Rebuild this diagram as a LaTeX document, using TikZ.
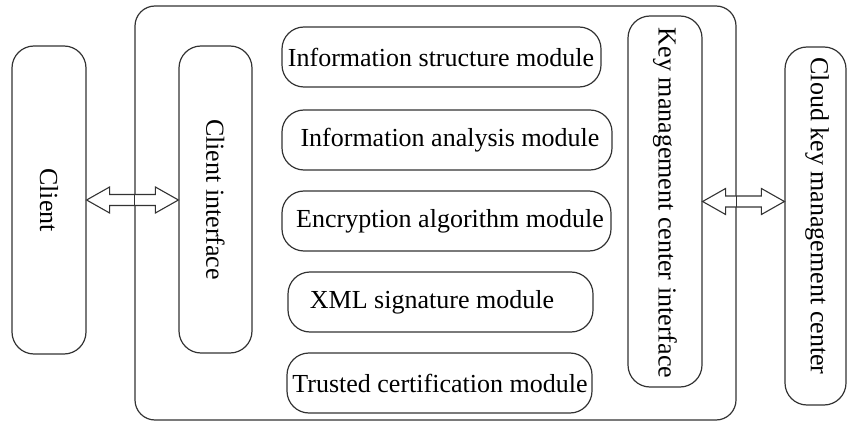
\documentclass[tikz,border=0pt]{standalone}
\usepackage{fontspec}
\setmainfont{Liberation Serif}
\usetikzlibrary{calc}
\definecolor{linec}{HTML}{333333}
\begin{document}
\begin{tikzpicture}[x=1pt,y=-1pt,
  box/.style={draw=linec, line width=1.2pt, rounded corners=22pt, inner sep=0pt},
  txt/.style={font=\fontsize{26}{30}\selectfont, text=black, inner sep=0pt},
  vtxt/.style={txt, rotate=-90},
  dblarrow/.style={draw=linec, line width=1.1pt, fill=white, line join=miter}]
\useasboundingbox (0,0) rectangle (847,425);

% outer container
\node[box, rounded corners=20pt, minimum width=601, minimum height=414] (outer) at (435.5,213) {};

% side boxes
\node[box, minimum width=74, minimum height=308] (cl) at (49,200) {};
\node[vtxt] (clt) at (49,200) {Client};

\node[box, minimum width=73, minimum height=307] (ci) at (215.5,199.5) {};
\node[vtxt] (cit) at (215.5,199.5) {Client interface};

\node[box, minimum width=74, minimum height=371] (key) at (665,201.5) {};
\node[vtxt] (keyt) at (665,203) {Key management center interface};

\node[box, minimum width=61, minimum height=358] (cloud) at (815.5,226) {};
\node[vtxt] (cloudt) at (817,216) {Cloud key management center};

% modules
\node[box, minimum width=319, minimum height=60] (m1) at (441.5,57) {};
\node[txt] (m1t) at (441,57) {Information structure module};
\node[box, minimum width=330, minimum height=60] (m2) at (447,140) {};
\node[txt] (m2t) at (450,140) {Information analysis module};
\node[box, minimum width=329, minimum height=60] (m3) at (446.5,221) {};
\node[txt] (m3t) at (450,221) {Encryption algorithm module};
\node[box, minimum width=305, minimum height=60] (m4) at (440.5,302) {};
\node[txt] (m4t) at (432,302) {XML signature module};
\node[box, minimum width=305, minimum height=60] (m5) at (439.5,383) {};
\node[txt] (m5t) at (440,383) {Trusted certification module};

% double arrows
\coordinate (a1) at (cl.east);
\coordinate (b1) at (a1 -| ci.west);
\draw[dblarrow] (a1) -- ($(a1)+(23,-13)$) -- ($(a1)+(23,-5.5)$) -- ($(b1)+(-23,-5.5)$) -- ($(b1)+(-23,-13)$) -- (b1)
  -- ($(b1)+(-23,13)$) -- ($(b1)+(-23,5.5)$) -- ($(a1)+(23,5.5)$) -- ($(a1)+(23,13)$) -- cycle;
\draw[draw=linec, line width=1.1pt] (a1 -| outer.west) ++(0,-5.5) -- ++(0,11);

\coordinate (a2) at (key.east);
\coordinate (b2) at (a2 -| cloud.west);
\draw[dblarrow] (a2) -- ($(a2)+(23,-13)$) -- ($(a2)+(23,-5.5)$) -- ($(b2)+(-23,-5.5)$) -- ($(b2)+(-23,-13)$) -- (b2)
  -- ($(b2)+(-23,13)$) -- ($(b2)+(-23,5.5)$) -- ($(a2)+(23,5.5)$) -- ($(a2)+(23,13)$) -- cycle;
\draw[draw=linec, line width=1.1pt] (a2 -| outer.east) ++(0,-5.5) -- ++(0,11);
\end{tikzpicture}
\end{document}
